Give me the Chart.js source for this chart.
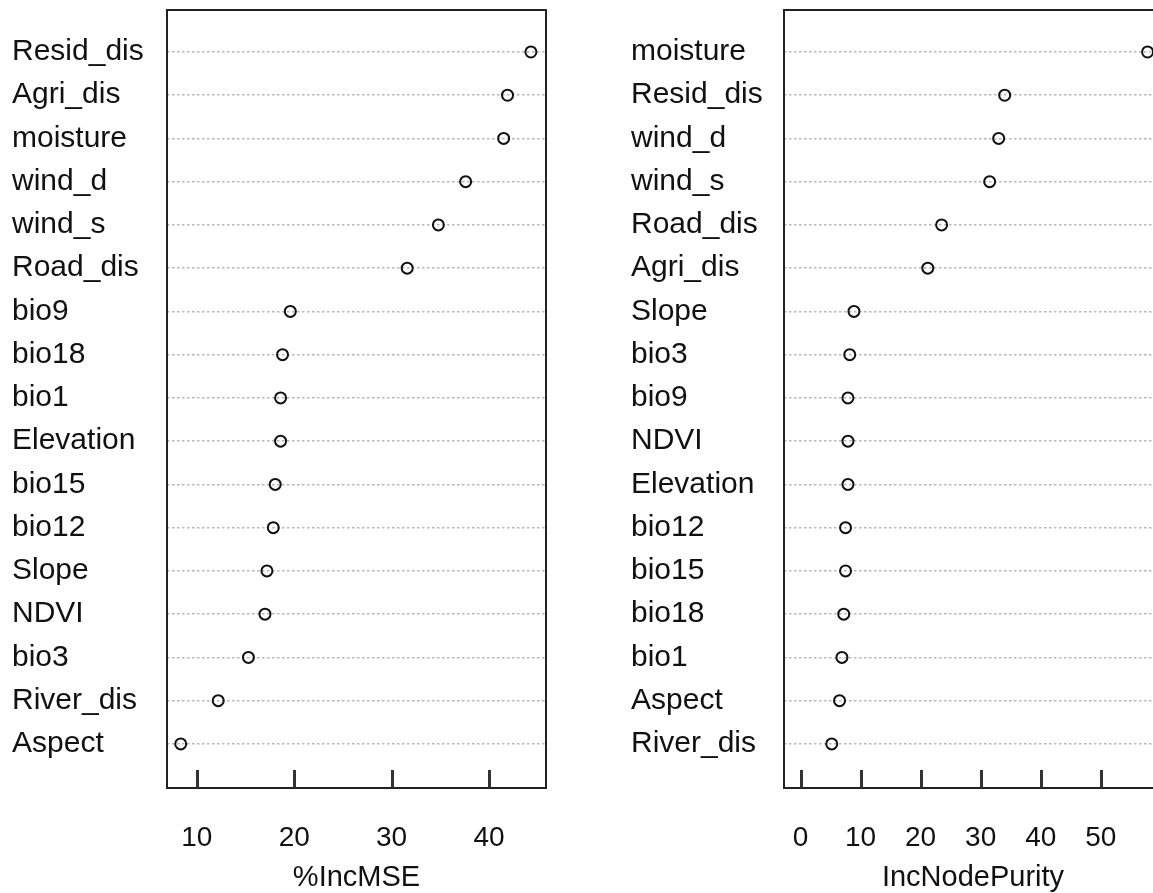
<!DOCTYPE html>
<html>
<head>
<meta charset="utf-8">
<script src="https://cdn.jsdelivr.net/npm/chart.js@4.4.1/dist/chart.umd.min.js"></script>
<style>
  html, body { margin: 0; padding: 0; background: #fff; width: 1153px; height: 893px; overflow: hidden; }
  #wrap { position: relative; width: 1153px; height: 893px; overflow: hidden; }
  #c1 { position: absolute; left: 0; top: 0; }
  #c2 { position: absolute; left: 600px; top: 0; }
</style>
</head>
<body>
<div id="wrap">
  <canvas id="c1" width="580" height="893"></canvas>
  <canvas id="c2" width="600" height="893"></canvas>
</div>
<script>
// ---- Data (top-to-bottom order as shown) ----
const mseLabels = ["Resid_dis","Agri_dis","moisture","wind_d","wind_s","Road_dis","bio9","bio18","bio1","Elevation","bio15","bio12","Slope","NDVI","bio3","River_dis","Aspect"];
const mseValues = [44.3, 41.9, 41.5, 37.6, 34.8, 31.6, 19.6, 18.8, 18.6, 18.6, 18.05, 17.85, 17.2, 17.0, 15.3, 12.2, 8.35];
const mseTicks = [10, 20, 30, 40];

const purityLabels = ["moisture","Resid_dis","wind_d","wind_s","Road_dis","Agri_dis","Slope","bio3","bio9","NDVI","Elevation","bio12","bio15","bio18","bio1","Aspect","River_dis"];
const purityValues = [57.8, 34.0, 33.0, 31.5, 23.5, 21.2, 8.9, 8.2, 7.9, 7.9, 7.9, 7.5, 7.5, 7.2, 6.9, 6.5, 5.2];
const purityTicks = [0, 10, 20, 30, 40, 50];

const FONT = "'Liberation Sans', Arial, Helvetica, sans-serif";

const boxAndTicks = {
  id: 'boxAndTicks',
  afterDraw(chart) {
    const {ctx, chartArea: a, scales} = chart;
    ctx.save();
    ctx.strokeStyle = '#222';
    ctx.lineWidth = 2;
    ctx.strokeRect(a.left, a.top, a.right - a.left, a.bottom - a.top);
    ctx.lineWidth = 3;
    ctx.strokeStyle = '#333';
    scales.x.ticks.forEach(t => {
      const px = Math.round(scales.x.getPixelForValue(t.value)) + 0.5;
      ctx.beginPath();
      ctx.moveTo(px, a.bottom);
      ctx.lineTo(px, a.bottom - 18);
      ctx.stroke();
    });
    ctx.restore();
  }
};

function makeChart(canvasId, labels, values, ticks, xmin, xmax, title, padLeft, yWidth, padRight) {
  const n = labels.length;
  const points = values.map((v, i) => ({x: v, y: n - i}));
  return new Chart(document.getElementById(canvasId), {
    type: 'scatter',
    data: {
      datasets: [{
        data: points,
        pointRadius: 5.5,
        pointHoverRadius: 5.5,
        pointBorderWidth: 2,
        pointBorderColor: '#111',
        pointBackgroundColor: 'rgba(255,255,255,0)',
        showLine: false
      }]
    },
    options: {
      responsive: false,
      animation: false,
      events: [],
      layout: { padding: { left: padLeft, right: padRight, top: 10, bottom: 0 } },
      plugins: { legend: { display: false }, tooltip: { enabled: false } },
      scales: {
        x: {
          type: 'linear',
          min: xmin,
          max: xmax,
          afterBuildTicks: s => { s.ticks = ticks.map(v => ({value: v})); },
          afterFit: s => { s.height = 105; s.paddingLeft = 0; s.paddingRight = 0; },
          grid: { display: false, drawTicks: false },
          border: { display: false },
          ticks: {
            padding: 33,
            color: '#111',
            font: { family: FONT, size: 28 },
            callback: v => String(v)
          },
          title: {
            display: true,
            text: title,
            color: '#111',
            font: { family: FONT, size: 29 },
            padding: { top: 0, bottom: -2 }
          }
        },
        y: {
          type: 'linear',
          min: -0.02,
          max: 17.97,
          afterBuildTicks: s => { s.ticks = labels.map((_, i) => ({value: n - i})); },
          afterFit: s => { s.width = yWidth; s.paddingTop = 0; s.paddingBottom = 0; },
          grid: {
            display: true,
            drawTicks: false,
            color: '#b8b8b8',
            lineWidth: 1.5
          },
          border: { display: false, dash: [2.5, 2.5] },
          ticks: {
            crossAlign: 'far',
            padding: 0,
            color: '#111',
            font: { family: FONT, size: 30 },
            callback: v => labels[n - v]
          }
        }
      }
    },
    plugins: [boxAndTicks]
  });
}

makeChart('c1', mseLabels, mseValues, mseTicks, 6.94, 45.85, '%IncMSE', 12, 155, 34);
makeChart('c2', purityLabels, purityValues, purityTicks, -2.75, 60.2, 'IncNodePurity', 31, 153, 38);
</script>
</body>
</html>
